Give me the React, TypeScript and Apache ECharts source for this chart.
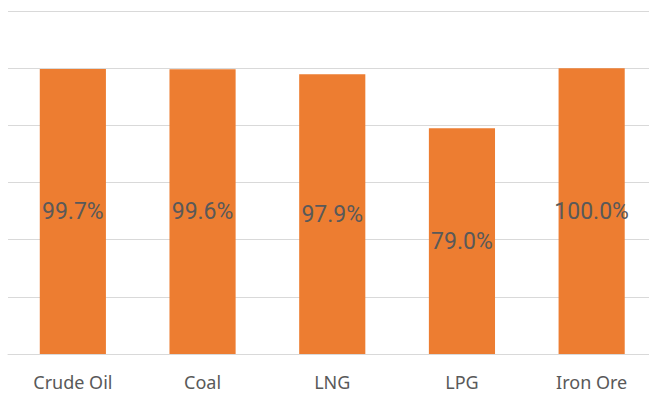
import React, { useEffect, useRef } from "react";
import * as echarts from "echarts";

const categories = ["Crude Oil", "Coal", "LNG", "LPG", "Iron Ore"];
const values = [99.7, 99.6, 97.9, 79.0, 100.0];
const yMin = 0;
const yMax = 120;
const yInterval = 20;

export default function App() {
  const ref = useRef<HTMLDivElement>(null);
  useEffect(() => {
    if (!ref.current) return;
    const chart = echarts.init(ref.current, undefined, { renderer: "svg" });
    chart.setOption({
      animation: false,
      backgroundColor: "#ffffff",
      grid: { left: 8, right: 0.5, top: 11, bottom: 40, containLabel: false },
      xAxis: {
        type: "category",
        data: categories,
        axisLine: { show: true, lineStyle: { color: "#d9d9d9", width: 1 } },
        axisTick: { show: false },
        axisLabel: {
          color: "#595959",
          fontSize: 18,
          lineHeight: 18,
          fontFamily: "Noto Sans",
          margin: 18.5,
        },
      },
      yAxis: {
        type: "value",
        min: yMin,
        max: yMax,
        interval: yInterval,
        axisLabel: { show: false },
        axisLine: { show: false },
        axisTick: { show: false },
        splitLine: { show: true, lineStyle: { color: "#d9d9d9", width: 1 } },
      },
      series: [
        {
          type: "bar",
          data: values,
          barCategoryGap: "49%",
          itemStyle: { color: "#ED7D31" },
          label: {
            show: true,
            position: "inside",
            color: "#595959",
            fontSize: 23,
            fontFamily: "Roboto",
            formatter: (p: any) => p.value.toFixed(1) + "%",
          },
        },
      ],
    });
    return () => chart.dispose();
  }, []);
  return (
    <div
      style={{
        position: "absolute",
        left: 0,
        top: 0,
        width: 649,
        height: 394,
        overflow: "hidden",
      }}
    >
      <div ref={ref} style={{ width: 657, height: 394 }} />
    </div>
  );
}
